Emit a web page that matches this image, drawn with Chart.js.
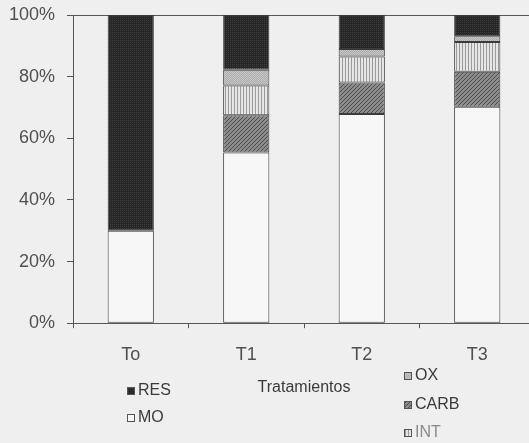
<!DOCTYPE html>
<html>
<head>
<meta charset="utf-8">
<script src="https://cdn.jsdelivr.net/npm/chart.js@4.4.1/dist/chart.umd.min.js"></script>
<style>
  html, body { margin: 0; padding: 0; background: #efefef; overflow: hidden; }
  #wrap { width: 540px; height: 443px; }
</style>
</head>
<body>
<div id="wrap"><canvas id="chart" width="540" height="443"></canvas></div>
<script>
// categories and stacked shares (%), bottom to top
const categories = ['To', 'T1', 'T2', 'T3'];
const moValues   = [30, 55.4, 67.9, 70.2];
const carbValues = [0, 12.1, 10.2, 11.4];
const intValues  = [0, 9.6, 8.4, 9.6];
const oxValues   = [0, 5.1, 2.5, 1.9];
const resValues  = [70, 17.8, 11.0, 6.9];
const yTicks = [0, 20, 40, 60, 80, 100];

// small fill patterns to look like the printed hatching
function makePattern(w, h, draw) {
  const c = document.createElement('canvas');
  c.width = w; c.height = h;
  const g = c.getContext('2d');
  draw(g, w, h);
  return g.createPattern(c, 'repeat');
}
const resFill = makePattern(2, 2, (g) => {
  g.fillStyle = '#262626'; g.fillRect(0, 0, 2, 2);
  g.fillStyle = '#3f3f3f'; g.fillRect(0, 0, 1, 1);
});
const oxFill = makePattern(2, 2, (g) => {
  g.fillStyle = '#a9a9a9'; g.fillRect(0, 0, 2, 2);
  g.fillStyle = '#cacaca'; g.fillRect(0, 0, 1, 1); g.fillRect(1, 1, 1, 1);
});
const intFill = makePattern(3, 1, (g) => {
  g.fillStyle = '#e6e6e6'; g.fillRect(0, 0, 3, 1);
  g.fillStyle = '#999999'; g.fillRect(0, 0, 1, 1);
});
const carbFill = makePattern(4, 4, (g) => {
  g.fillStyle = '#8c8c8c'; g.fillRect(0, 0, 4, 4);
  g.fillStyle = '#4e4e4e';
  for (let i = 0; i < 4; i++) g.fillRect(i, 3 - i, 1, 1);
});
const moFill = '#f7f7f7';

// legend laid out like the scanned original (two loose columns)
const legendSpots = {
  RES:  { x: 127, y: 391 },
  MO:   { x: 127, y: 418 },
  OX:   { x: 404, y: 376 },
  CARB: { x: 404, y: 405 },
  INT:  { x: 404, y: 433 }
};

const looseLegend = {
  id: 'looseLegend',
  afterDraw(chart) {
    const ctx = chart.ctx;
    ctx.save();
    ctx.font = '16px "Liberation Sans", Arial, sans-serif';
    ctx.textBaseline = 'middle';
    chart.data.datasets.forEach(ds => {
      const spot = legendSpots[ds.label];
      if (!spot) return;
      ctx.fillStyle = ds.backgroundColor;
      ctx.fillRect(spot.x, spot.y - 4, 7, 7);
      ctx.strokeStyle = '#555';
      ctx.lineWidth = 1;
      ctx.strokeRect(spot.x + 0.5, spot.y - 3.5, 7, 7);
      ctx.fillStyle = ds.label === 'INT' ? '#8a8a8a' : '#3a3a3a';
      ctx.fillText(ds.label, spot.x + 11, spot.y);
    });
    ctx.restore();
  }
};

const mkSet = (label, data, fill) => ({
  label, data,
  backgroundColor: fill,
  borderColor: '#3a3a3a',
  borderWidth: 1,
  borderSkipped: false,
  categoryPercentage: 1,
  barPercentage: 0.4
});

new Chart(document.getElementById('chart'), {
  type: 'bar',
  data: {
    labels: categories,
    datasets: [
      mkSet('MO', moValues, moFill),
      mkSet('CARB', carbValues, carbFill),
      mkSet('INT', intValues, intFill),
      mkSet('OX', oxValues, oxFill),
      mkSet('RES', resValues, resFill)
    ]
  },
  options: {
    responsive: false,
    animation: false,
    layout: { padding: { top: 15, right: 5, bottom: 46, left: 0 } },
    plugins: {
      legend: { display: false },
      tooltip: { enabled: false }
    },
    scales: {
      x: {
        stacked: true,
        grid: { drawOnChartArea: false, tickLength: 5, color: '#555' },
        border: { color: '#555', width: 1 },
        ticks: {
          padding: 16,
          color: '#505050',
          font: { family: '"Liberation Sans", Arial, sans-serif', size: 18 }
        },
        title: {
          display: true,
          text: 'Tratamientos',
          color: '#3a3a3a',
          padding: { top: -4, bottom: 0 },
          font: { family: '"Liberation Sans", Arial, sans-serif', size: 16 }
        }
      },
      xTop: {
        position: 'top',
        afterFit(scale) { scale.height = 0; scale.paddingLeft = 0; scale.paddingRight = 0; },
        grid: { display: false },
        ticks: { display: false },
        border: { display: true, color: '#555', width: 1 }
      },
      y: {
        stacked: true,
        min: 0,
        max: 100,
        afterFit(scale) {
          scale.width = 73;
          scale.paddingTop = 0;
          scale.paddingBottom = 0;
        },
        afterBuildTicks(scale) { scale.ticks = yTicks.map(v => ({ value: v })); },
        grid: { drawOnChartArea: false, tickLength: 6, color: '#555' },
        border: { color: '#555', width: 1 },
        ticks: {
          padding: 12,
          color: '#505050',
          font: { family: '"Liberation Sans", Arial, sans-serif', size: 18 },
          callback: v => v + '%'
        }
      }
    }
  },
  plugins: [looseLegend]
});
</script>
</body>
</html>
